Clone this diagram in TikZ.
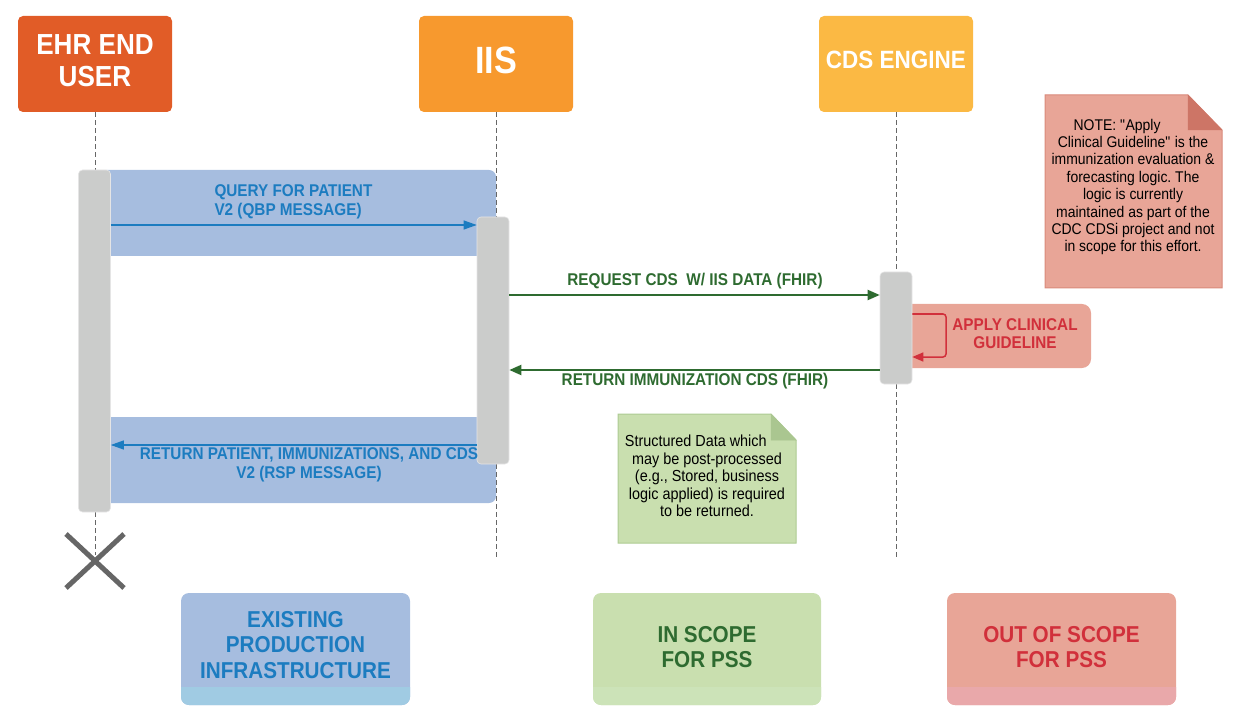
\documentclass[tikz,border=0pt]{standalone}
\usepackage{fontspec}
\setmainfont[FakeStretch=0.9]{Liberation Sans}
\usetikzlibrary{arrows.meta}
\frenchspacing
\definecolor{ehrC}{HTML}{E15C27}
\definecolor{iisC}{HTML}{F7992E}
\definecolor{cdsC}{HTML}{FBB944}
\definecolor{barC}{HTML}{CBCCCB}
\definecolor{bandC}{HTML}{A6BDDF}
\definecolor{blueT}{HTML}{1C7CC0}
\definecolor{greenT}{HTML}{2E6B30}
\definecolor{redT}{HTML}{D1303B}
\definecolor{salmon}{HTML}{E8A597}
\definecolor{salmonB}{HTML}{D98A7B}
\definecolor{foldR}{HTML}{CD7566}
\definecolor{gnote}{HTML}{C9DFAF}
\definecolor{gnoteB}{HTML}{ADCB92}
\definecolor{foldG}{HTML}{AAC690}
\definecolor{stripB}{HTML}{A0CBE3}
\definecolor{stripG}{HTML}{CCE3B8}
\definecolor{stripR}{HTML}{E9A8AA}
\definecolor{xgray}{HTML}{666666}
\tikzset{
  hdrbox/.style={rounded corners=5pt, minimum width=154pt, minimum height=96pt, inner sep=0pt},
  hdrtext/.style={text=white, align=center, font=\fontsize{29}{32}\selectfont\bfseries},
  life/.style={draw=gray!80!black, line width=0.8pt, dash pattern=on 5pt off 3pt},
  actbar/.style={fill=barC, draw=white!90!black, line width=0.6pt, rounded corners=4pt, minimum width=32pt, inner sep=0pt},
  msgblue/.style={draw=blueT, line width=1.1pt, -{Triangle[length=13pt,width=9pt]}},
  msggreen/.style={draw=greenT, line width=2pt, -{Triangle[length=12pt,width=10pt]}},
  msgred/.style={draw=redT, line width=1.5pt, rounded corners=3pt, -{Triangle[length=11pt,width=9pt]}},
  lblblue/.style={text=blueT, font=\fontsize{17}{19}\selectfont\bfseries},
  lblgreen/.style={text=greenT, font=\fontsize{17}{19}\selectfont\bfseries},
  notetext/.style={text=black, align=center, font=\fontsize{15.5}{17.4}\selectfont},
  legtext/.style={align=center, font=\fontsize{23}{25.5}\selectfont\bfseries},
}
\begin{document}
\begin{tikzpicture}[x=1pt,y=-1pt]
\useasboundingbox (0,0) rectangle (1242,727);
% headers
\node[hdrbox, fill=ehrC] (ehr) at (95,64) {};
\node[hdrbox, fill=iisC] (iis) at (496,64) {};
\node[hdrbox, fill=cdsC] (cds) at (896,64) {};
\node[hdrtext] (ehrt) at (95,61) {EHR END\\USER};
\node[hdrtext, font=\fontsize{38}{40}\selectfont\bfseries] (iist) at (496,60) {IIS};
\node[hdrtext, font=\fontsize{25}{31}\selectfont\bfseries] (cdst) at (896,60) {CDS ENGINE};
% blue bands
\fill[bandC, rounded corners=7pt] (100,170) rectangle (496,256);
\fill[bandC, rounded corners=7pt] (100,417) rectangle (496,503);
% apply guideline box
\fill[salmon, rounded corners=9pt] (900,304) rectangle (1091,368);
% lifelines
\coordinate (ehrend) at (95,555);
\coordinate (iisend) at (496,560);
\coordinate (cdsend) at (896,560);
\draw[life] (ehr.south) -- (ehrend);
\draw[life] (iis.south) -- (iisend);
\draw[life] (cds.south) -- (cdsend);
% activation bars
\node[actbar, minimum height=342pt] (ehrbar) at (94.5,341) {};
\node[actbar, minimum height=247pt] (iisbar) at (493,340.5) {};
\node[actbar, minimum height=112pt] (cdsbar) at (896,328) {};
% messages
\coordinate (yq) at (0,225);
\coordinate (yr) at (0,295);
\coordinate (yi) at (0,370);
\coordinate (yp) at (0,445);
\draw[msgblue] (ehrbar.east |- yq) -- (iisbar.west |- yq);
\node[lblblue, align=left, anchor=west] (ql) at (211,201.5) {QUERY FOR PATIENT\\V2 (QBP MESSAGE)};
\draw[msggreen] (iisbar.east |- yr) -- (cdsbar.west |- yr);
\node[lblgreen] (rl) at (695,281) {REQUEST CDS\ \ W/ IIS DATA (FHIR)};
\draw[msggreen] (cdsbar.west |- yi) -- (iisbar.east |- yi);
\node[lblgreen] (il) at (695,381) {RETURN IMMUNIZATION CDS (FHIR)};
\draw[msgblue] (iisbar.west |- yp) -- (ehrbar.east |- yp);
\node[lblblue, align=center] (pl) at (309,464.5) {RETURN PATIENT, IMMUNIZATIONS, AND CDS\\V2 (RSP MESSAGE)};
% self call
\coordinate (s1) at (0,314);
\coordinate (s2) at (946,314);
\coordinate (s3) at (946,357);
\coordinate (s4) at (0,357);
\draw[msgred] (cdsbar.east |- s1) -- (s2) -- (s3) -- (cdsbar.east |- s4);
\node[text=redT, align=center, font=\fontsize{17}{18}\selectfont\bfseries] (agl) at (1015,334) {APPLY CLINICAL\\GUIDELINE};
% red note
\filldraw[fill=salmon, draw=salmonB, line width=1pt] (1045,95) -- (1188,95) -- (1222,130) -- (1222,288) -- (1045,288) -- cycle;
\filldraw[fill=foldR, draw=foldR, line width=0.5pt] (1188,95) -- (1188,130) -- (1222,130) -- cycle;
\node[notetext] (rnote) at (1133,187) {NOTE: \textquotedbl Apply\phantom{ Appl}\\Clinical Guideline\textquotedbl{} is the\\immunization evaluation \&\\forecasting logic. The\\logic is currently\\maintained as part of the\\CDC CDSi project and not\\in scope for this effort.};
% green note
\filldraw[fill=gnote, draw=gnoteB, line width=1pt] (618,414) -- (771,414) -- (796,440) -- (796,543) -- (618,543) -- cycle;
\filldraw[fill=foldG, draw=foldG, line width=0.5pt] (771,414) -- (771,440) -- (796,440) -- cycle;
\node[notetext, font=\fontsize{16}{17.5}\selectfont] (gnotet) at (707,476) {Structured Data which\phantom{ wh}\\may be post-processed\\(e.g., Stored, business\\logic applied) is required\\to be returned.};
% destroy mark
\coordinate (x1) at (66,534);
\coordinate (x2) at (124,588);
\coordinate (x3) at (66,588);
\coordinate (x4) at (124,534);
\draw[xgray, line width=5pt] (x1) -- (x2);
\draw[xgray, line width=5pt] (x3) -- (x4);
% legend
\fill[bandC, rounded corners=8pt] (181,593) rectangle (410,705);
\fill[gnote, rounded corners=8pt] (593,593) rectangle (821,705);
\fill[salmon, rounded corners=8pt] (947,593) rectangle (1176,705);
\begin{scope}
\clip (0,687) rectangle (1242,727);
\fill[stripB, rounded corners=8pt] (181,593) rectangle (410,705);
\fill[stripG, rounded corners=8pt] (593,593) rectangle (821,705);
\fill[stripR, rounded corners=8pt] (947,593) rectangle (1176,705);
\end{scope}
\node[legtext, text=blueT] (leg1) at (295.5,645) {EXISTING\\PRODUCTION\\INFRASTRUCTURE};
\node[legtext, text=greenT] (leg2) at (707,647) {IN SCOPE\\FOR PSS};
\node[legtext, text=redT] (leg3) at (1061.5,647) {OUT OF SCOPE\\FOR PSS};
\end{tikzpicture}
\end{document}
